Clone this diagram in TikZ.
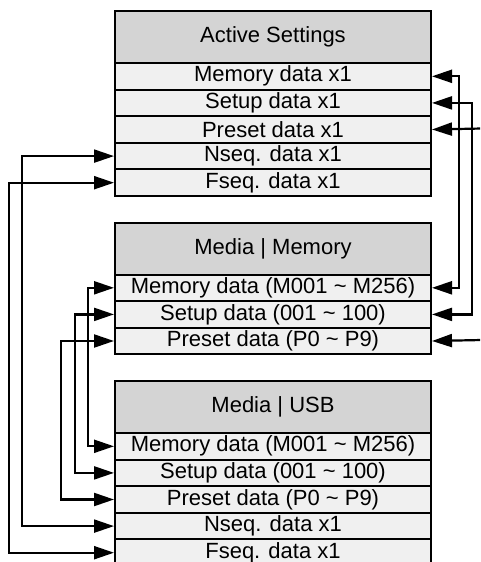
\documentclass[tikz,border=0pt]{standalone}
\usepackage{fontspec}
\setmainfont{Liberation Sans}
\usetikzlibrary{arrows.meta}
\definecolor{hdrgray}{RGB}{212,212,212}
\definecolor{rowgray}{RGB}{240,240,240}
\begin{document}
\begin{tikzpicture}[x=1pt,y=-1pt,
  hdr/.style={draw=black,line width=2pt,fill=hdrgray,anchor=north west,minimum width=316pt,minimum height=52pt,inner sep=0pt,font=\fontsize{22}{26}\selectfont},
  row/.style={draw=black,line width=2pt,fill=rowgray,anchor=north west,minimum width=316pt,minimum height=26.6pt,inner sep=0pt,font=\fontsize{22}{24}\selectfont},
  tip/.style={Triangle[length=20pt,width=13pt]},
  conn/.style={line width=2.2pt,{Triangle[length=20pt,width=13pt]}-{Triangle[length=20pt,width=13pt]}},
  connin/.style={line width=2.2pt,-{Triangle[length=20pt,width=13pt]}}]
\useasboundingbox (0,0) rectangle (480,562);
\clip (0,0) rectangle (480,562);
% Active Settings
\node[hdr] (aH) at (114,10) {Active Settings};
\node[row] (aMem) at (114,62) {Memory data x1};
\node[row] (aSet) at (114,88.6) {Setup data x1};
\node[row] (aPre) at (114,115.2) {Preset data x1};
\node[row] (aNs) at (114,141.8) {Nseq. data x1};
\node[row] (aFs) at (114,168.4) {Fseq. data x1};
% Media | Memory
\node[hdr] (mH) at (114,221.5) {Media | Memory};
\node[row] (mMem) at (114,273.5) {Memory data (M001 \textasciitilde{} M256)};
\node[row] (mSet) at (114,300.1) {Setup data (001 \textasciitilde{} 100)};
\node[row] (mPre) at (114,326.7) {Preset data (P0 \textasciitilde{} P9)};
% Media | USB
\node[hdr] (uH) at (114,380) {Media | USB};
\node[row] (uMem) at (114,432) {Memory data (M001 \textasciitilde{} M256)};
\node[row] (uSet) at (114,458.6) {Setup data (001 \textasciitilde{} 100)};
\node[row] (uPre) at (114,485.2) {Preset data (P0 \textasciitilde{} P9)};
\node[row] (uNs) at (114,511.8) {Nseq. data x1};
\node[row] (uFs) at (114,538.4) {Fseq. data x1};
% free ends on the right
\coordinate (pA) at (482,128.5);
\coordinate (pM) at (482,340);
% right connectors
\draw[conn] (aMem.east) -- ([xshift=27pt]aMem.east) |- (mMem.east);
\draw[conn] (aSet.east) -- ([xshift=40pt]aSet.east) |- (mSet.east);
\draw[connin] (pA) -- (aPre.east);
\draw[connin] (pM) -- (mPre.east);
% left connectors
\draw[conn] (aNs.west) -- ([xshift=-92pt]aNs.west) |- (uNs.west);
\draw[conn] (aFs.west) -- ([xshift=-105pt]aFs.west) |- (uFs.west);
\draw[conn] (mMem.west) -- ([xshift=-26pt]mMem.west) |- (uMem.west);
\draw[conn] (mSet.west) -- ([xshift=-39pt]mSet.west) |- (uSet.west);
\draw[conn] (mPre.west) -- ([xshift=-53pt]mPre.west) |- (uPre.west);
\end{tikzpicture}
\end{document}
